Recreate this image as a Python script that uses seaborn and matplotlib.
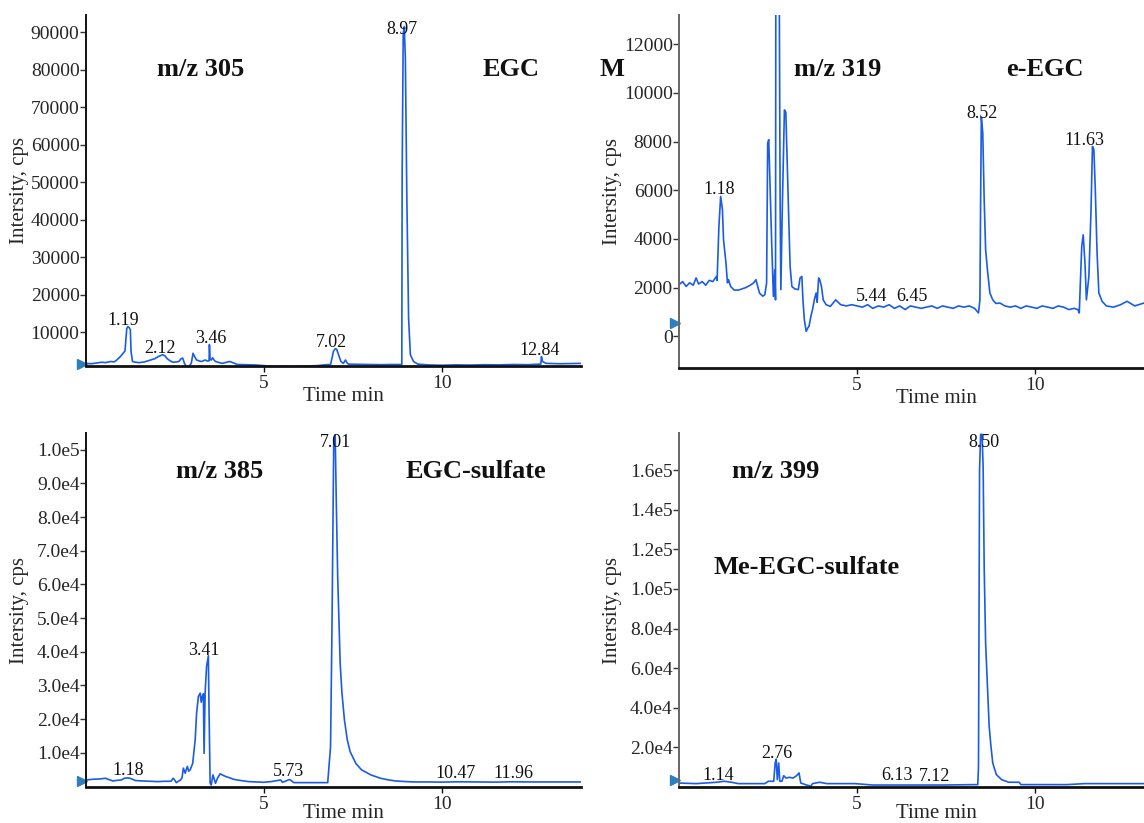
import matplotlib
matplotlib.use("Agg")
import matplotlib.pyplot as plt
import matplotlib.transforms as mtransforms
import seaborn as sns

# ---------------- data ----------------
# Panel A : m/z 305 (EGC)
A_time = [0.00, 0.15, 0.30, 0.44, 0.55, 0.70, 0.80, 0.87, 0.97, 1.10, 1.15, 1.18, 1.22, 1.25,
          1.27, 1.31, 1.40, 1.50, 1.65, 1.82, 1.95, 2.03, 2.16, 2.22, 2.29, 2.38, 2.45, 2.55,
          2.61, 2.68, 2.72, 2.77, 2.85, 2.92, 2.96, 3.01, 3.05, 3.11, 3.20, 3.25, 3.35, 3.42,
          3.46, 3.47, 3.49, 3.52, 3.56, 3.60, 3.64, 3.75, 3.83, 3.95, 4.04, 4.15, 4.25, 4.50,
          4.78, 5.00, 5.31, 5.60, 5.84, 6.10, 6.47, 6.70, 6.87, 6.92, 6.95, 7.00, 7.04, 7.08,
          7.16, 7.23, 7.29, 7.33, 7.37, 7.60, 7.95, 8.30, 8.58, 8.85, 8.87, 8.88, 8.91, 8.94,
          8.97, 9.01, 9.06, 9.11, 9.20, 9.32, 9.60, 10.00, 10.40, 10.80, 11.20, 11.60, 12.00,
          12.40, 12.77, 12.79, 12.82, 12.92, 13.30, 13.60, 13.92]
A_int = [1700, 1600, 1800, 2000, 1900, 2200, 2100, 2600, 3500, 5000, 11000, 11500, 11200, 10700,
         4900, 2200, 2000, 1900, 2100, 2600, 3000, 3500, 4000, 3700, 2900, 2300, 2000, 2100,
         2200, 3000, 3100, 1700, 360, 1200, 1700, 4400, 3600, 2600, 2300, 2200, 2600, 2300,
         2400, 6700, 2700, 2600, 3200, 2600, 2200, 1900, 1700, 2000, 2200, 1800, 1400, 1350,
         1260, 1100, 900, 950, 900, 1000, 1080, 1300, 1400, 3500, 4900, 5600, 5500, 4400,
         2200, 1700, 2600, 1900, 1500, 1450, 1400, 1350, 1400, 1400, 1400, 52500, 89800, 91500,
         83000, 47000, 13900, 4000, 2200, 1500, 1300, 1200, 1300, 1250, 1350, 1300, 1400,
         1350, 1500, 3500, 2200, 1700, 1600, 1650, 1700]
A_labels = ["1.19", "2.12", "3.46", "7.02", "8.97", "12.84"]
A_label_x = [1.06, 2.08, 3.51, 6.90, 8.88, 12.73]
A_label_y = [12060, 4370, 7050, 6170, 89500, 3940]
A_yticks = [10000, 20000, 30000, 40000, 50000, 60000, 70000, 80000, 90000]
A_yticklabels = ["10000", "20000", "30000", "40000", "50000", "60000", "70000", "80000", "90000"]

# Panel B : m/z 319 (e-EGC)
B_time = [0.00, 0.10, 0.20, 0.30, 0.40, 0.48, 0.55, 0.65, 0.75, 0.85, 0.95, 1.05, 1.07, 1.12,
          1.17, 1.22, 1.25, 1.32, 1.36, 1.39, 1.45, 1.55, 1.67, 1.77, 1.87, 2.00, 2.10, 2.16,
          2.22, 2.26, 2.35, 2.41, 2.46, 2.49, 2.52, 2.56, 2.60, 2.65, 2.69, 2.71, 2.72, 2.81,
          2.84, 2.86, 2.90, 2.96, 3.00, 3.03, 3.08, 3.12, 3.17, 3.25, 3.35, 3.40, 3.45, 3.48,
          3.52, 3.57, 3.62, 3.65, 3.70, 3.75, 3.80, 3.85, 3.88, 3.92, 3.95, 4.00, 4.05, 4.13,
          4.25, 4.40, 4.54, 4.70, 4.85, 5.00, 5.15, 5.30, 5.44, 5.60, 5.75, 5.90, 6.05, 6.20,
          6.35, 6.50, 6.65, 6.80, 6.95, 7.10, 7.25, 7.40, 7.55, 7.70, 7.85, 8.00, 8.15, 8.30,
          8.41, 8.45, 8.47, 8.49, 8.53, 8.57, 8.61, 8.67, 8.73, 8.81, 8.90, 9.01, 9.15, 9.30,
          9.45, 9.60, 9.75, 9.90, 10.05, 10.20, 10.35, 10.50, 10.65, 10.80, 10.95, 11.10, 11.20,
          11.24, 11.27, 11.31, 11.35, 11.40, 11.44, 11.51, 11.57, 11.61, 11.65, 11.69, 11.74,
          11.79, 11.88, 12.00, 12.20, 12.40, 12.58, 12.80, 13.06, 13.30, 13.60, 13.90]
B_int = [2120, 2250, 2050, 2200, 2100, 2400, 2150, 2250, 2100, 2300, 2250, 2460, 2300, 4500,
         5750, 5200, 3970, 3000, 2200, 2330, 2050, 1900, 1900, 1950, 2000, 2100, 2200, 2330,
         2000, 1780, 1650, 1710, 2190, 7940, 8080, 6020, 3970, 1640, 2740, 1500, 16000, 16000,
         5480, 1920, 5200, 9300, 9200, 7540, 4930, 2870, 2050, 1950, 1920, 2400, 2460, 1500,
         685, 205, 350, 410, 800, 1100, 1500, 1780, 1400, 2400, 2330, 2050, 1500, 1300,
         1230, 1500, 1300, 1250, 1300, 1250, 1200, 1300, 1150, 1250, 1200, 1300, 1150, 1250,
         1100, 1250, 1200, 1150, 1200, 1250, 1150, 1250, 1200, 1150, 1250, 1200, 1250, 1150,
         960, 1500, 5600, 9000, 8350, 5600, 3560, 2600, 1780, 1500, 1350, 1370, 1250, 1200,
         1250, 1150, 1250, 1200, 1150, 1250, 1200, 1150, 1250, 1200, 1100, 1150, 1100,
         960, 2190, 3700, 4170, 3010, 1500, 2460, 5200, 7800, 7670, 6020, 3420,
         1780, 1440, 1250, 1200, 1300, 1440, 1250, 1370, 1300, 1350, 1300]
B_labels = ["1.18", "5.44", "6.45", "8.52", "11.63"]
B_label_x = [1.13, 5.42, 6.53, 8.51, 11.39]
B_label_y = [5860, 1440, 1440, 8970, 7870]
B_yticks = [0, 2000, 4000, 6000, 8000, 10000, 12000]
B_yticklabels = ["0", "2000", "4000", "6000", "8000", "10000", "12000"]

# Panel C : m/z 385 (EGC-sulfate)
C_time = [0.00, 0.20, 0.40, 0.55, 0.65, 0.76, 0.90, 1.00, 1.08, 1.18, 1.24, 1.40, 1.60, 1.80,
          2.03, 2.20, 2.35, 2.40, 2.45, 2.50, 2.54, 2.60, 2.66, 2.70, 2.74, 2.79, 2.85, 2.89,
          2.93, 2.97, 3.00, 3.07, 3.11, 3.16, 3.21, 3.24, 3.27, 3.30, 3.32, 3.35, 3.39, 3.44,
          3.46, 3.49, 3.52, 3.57, 3.64, 3.70, 3.77, 3.85, 3.93, 4.05, 4.14, 4.30, 4.57, 4.80,
          4.99, 5.20, 5.47, 5.52, 5.60, 5.68, 5.73, 5.84, 6.10, 6.40, 6.79, 6.87, 6.91, 6.96,
          7.00, 7.03, 7.07, 7.14, 7.19, 7.26, 7.34, 7.42, 7.58, 7.74, 8.00, 8.27, 8.50, 8.69,
          9.00, 9.22, 9.60, 10.00, 10.47, 11.00, 11.50, 11.96, 12.50, 13.00, 13.50, 13.92]
C_int = [1900, 2100, 2200, 2400, 2000, 1600, 1800, 1900, 2400, 2500, 2400, 1700, 1600, 1500,
         1400, 1500, 1500, 1600, 2400, 1800, 1100, 1500, 1900, 2500, 5400, 3900, 5900, 4500,
         4900, 6000, 6800, 13800, 21700, 26700, 27700, 25000, 26700, 27500, 9800, 28000, 35600, 38800,
         22000, 900, 400, 3400, 900, 2500, 3700, 3300, 2900, 2500, 2100, 1800, 1400, 1300,
         1200, 1400, 1900, 1200, 1500, 1900, 2000, 1100, 1100, 1100, 1100, 11800, 47000, 103000,
         104500, 85200, 62400, 36600, 27700, 19700, 13800, 10300, 6800, 4900, 3400, 2400, 1900, 1600,
         1400, 1300, 1300, 1250, 1350, 1300, 1250, 1350, 1300, 1300, 1300, 1300]
C_labels = ["1.18", "3.41", "5.73", "7.01", "10.47", "11.96"]
C_label_x = [1.19, 3.31, 5.68, 7.00, 10.37, 12.01]
C_label_y = [3370, 39100, 3075, 100900, 2380, 2380]
C_yticks = [10000, 20000, 30000, 40000, 50000, 60000, 70000, 80000, 90000, 100000]
C_yticklabels = ["1.0e4", "2.0e4", "3.0e4", "4.0e4", "5.0e4", "6.0e4", "7.0e4", "8.0e4",
                 "9.0e4", "1.0e5"]

# Panel D : m/z 399 (Me-EGC-sulfate)
D_time = [0.00, 0.48, 1.07, 1.27, 1.47, 1.67, 2.41, 2.51, 2.66, 2.70, 2.73, 2.76, 2.80, 2.83,
          2.89, 2.94, 3.01, 3.10, 3.20, 3.30, 3.37, 3.42, 3.55, 3.70, 3.75, 3.95, 4.15, 4.94,
          5.44, 6.43, 7.42, 8.31, 8.39, 8.41, 8.44, 8.47, 8.51, 8.54, 8.57, 8.61, 8.67, 8.71,
          8.76, 8.81, 8.91, 9.06, 9.26, 9.55, 9.60, 10.89, 11.39, 13.06, 13.90]
D_int = [2000, 1700, 2400, 2900, 2400, 1700, 1700, 2900, 2900, 12100, 14100, 3700, 12100, 2900,
         2900, 5700, 4500, 4900, 4500, 5700, 7100, 2000, 1200, 370, 1700, 2400, 1700, 1700,
         1000, 1000, 1000, 1200, 1200, 10400, 160000, 178000, 178000, 161700, 111000, 72600, 47400, 30600,
         20500, 12100, 6300, 3700, 2400, 2400, 1200, 1200, 1700, 1700, 1700]
D_labels = ["1.14", "2.76", "6.13", "7.12", "8.50"]
D_label_x = [1.09, 2.74, 6.11, 7.17, 8.56]
D_label_y = [3730, 14650, 3400, 2900, 171700]
D_yticks = [20000, 40000, 60000, 80000, 100000, 120000, 140000, 160000]
D_yticklabels = ["2.0e4", "4.0e4", "6.0e4", "8.0e4", "1.0e5", "1.2e5", "1.4e5", "1.6e5"]

# start-of-trace marker levels
marker_levels = [1500, 560, 1700, 3400]

# ---------------- style ----------------
sns.set_theme(style="ticks")
plt.rcParams['font.family'] = ['Liberation Serif', 'DejaVu Serif']
plt.rcParams['axes.unicode_minus'] = False

W, H = 1144, 823
fig = plt.figure(figsize=(W / 100, H / 100), dpi=100)

LINE = '#1a5ce6'
MARK = '#2f7fbf'


def box(left, top, right, bottom):
    return [left / W, 1 - bottom / H, (right - left) / W, (bottom - top) / H]


panels = [
    dict(pos=box(85.8, 15, 581, 366), t=A_time, v=A_int, ylim=(1000, 94600),
         yt=A_yticks, ytl=A_yticklabels, lab=A_labels, lx=A_label_x, ly=A_label_y,
         spine='#111111', mk=marker_levels[0], xl=-0.06),
    dict(pos=box(679, 15, 1174, 368), t=B_time, v=B_int, ylim=(-1300, 13200),
         yt=B_yticks, ytl=B_yticklabels, lab=B_labels, lx=B_label_x, ly=B_label_y,
         spine='#666666', mk=marker_levels[1], xl=-0.06),
    dict(pos=box(85.8, 433, 581, 787), t=C_time, v=C_int, ylim=(-200, 105000),
         yt=C_yticks, ytl=C_yticklabels, lab=C_labels, lx=C_label_x, ly=C_label_y,
         spine='#111111', mk=marker_levels[2], xl=-0.048),
    dict(pos=box(679, 433, 1174, 787), t=D_time, v=D_int, ylim=(0, 178700),
         yt=D_yticks, ytl=D_yticklabels, lab=D_labels, lx=D_label_x, ly=D_label_y,
         spine='#666666', mk=marker_levels[3], xl=-0.048),
]

for p in panels:
    ax = fig.add_axes(p['pos'])
    sns.lineplot(x=p['t'], y=p['v'], ax=ax, color=LINE, linewidth=1.2,
                 estimator=None, sort=False)
    ax.set_xlim(0, 13.9)
    ax.set_ylim(*p['ylim'])
    ax.set_xticks([5, 10])
    ax.set_xticklabels(["5", "10"])
    ax.set_yticks(p['yt'])
    ax.set_yticklabels(p['ytl'])
    ax.tick_params(axis='y', labelsize=14, length=4, width=1, pad=0.5, color='#333333')
    ax.tick_params(axis='x', labelsize=14, length=4, width=1, pad=2.5, color='#111111')
    sns.despine(ax=ax)
    ax.spines['bottom'].set_linewidth(2.0)
    ax.spines['bottom'].set_color('#111111')
    ax.spines['left'].set_linewidth(1.4)
    ax.spines['left'].set_color(p['spine'])
    ax.set_xlabel("Time min", fontsize=15)
    ax.set_ylabel("Intersity, cps", fontsize=15)
    ax.xaxis.set_label_coords(0.52, p['xl'])
    ax.yaxis.set_label_coords(-0.115, 0.5)
    for txt, x, y in zip(p['lab'], p['lx'], p['ly']):
        ax.text(x, y, txt, ha='center', va='baseline', fontsize=13, color='#111111',
                clip_on=False)
    tr = mtransforms.offset_copy(ax.transData, fig=fig, x=-4, y=0, units='dots')
    ax.plot([0], [p['mk']], marker='>', color=MARK, markersize=7, clip_on=False,
            transform=tr, linestyle='none')
    ax.set_facecolor('white')

# bold panel annotations
big = dict(fontsize=19, fontweight='bold', ha='left', va='baseline', color='#111111')
for txt, x, y in [("m/z 305", 157, 76), ("EGC", 483, 76), ("M", 599, 76),
                  ("m/z 319", 794, 76), ("e-EGC", 1006, 76),
                  ("m/z 385", 176, 478), ("EGC-sulfate", 406, 478),
                  ("m/z 399", 732, 478), ("Me-EGC-sulfate", 713, 574)]:
    fig.text(x / W, 1 - y / H, txt, **big)

fig.savefig("out.png", dpi=100, facecolor='white')
